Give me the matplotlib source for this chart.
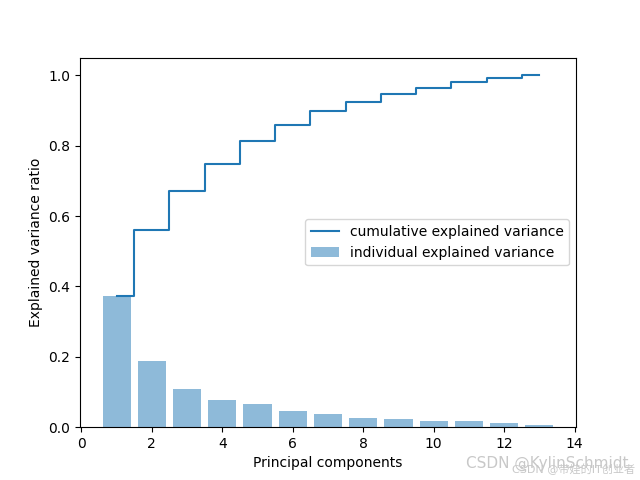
import matplotlib
matplotlib.use('Agg')
import matplotlib.pyplot as plt
import numpy as np

plt.rcParams['font.family'] = ['DejaVu Sans', 'Noto Sans CJK SC']

components = np.arange(1, 14)
var_exp = [0.3729, 0.1882, 0.1087, 0.0767, 0.0652, 0.0460, 0.0383,
           0.0262, 0.0229, 0.0170, 0.0166, 0.0119, 0.0065]
cum_var_exp = [0.373, 0.561, 0.670, 0.747, 0.812, 0.858, 0.897,
               0.923, 0.946, 0.963, 0.980, 0.992, 1.000]

fig, ax = plt.subplots(figsize=(6.4, 4.8), dpi=100)
ax.bar(components, var_exp, alpha=0.5, align='center',
       label='individual explained variance')
ax.step(components, cum_var_exp, where='mid',
        label='cumulative explained variance')
ax.set_ylabel('Explained variance ratio')
ax.set_xlabel('Principal components')
ax.legend(loc='best')

fig.text(0.728, 0.025, 'CSDN @KylinSchmidt', fontsize=11, color='#c8c8c8')
fig.text(0.8, 0.015, 'CSDN @带娃的IT创业者', fontsize=8, color='#c8c8c8')

plt.savefig('out.png', dpi=100)
